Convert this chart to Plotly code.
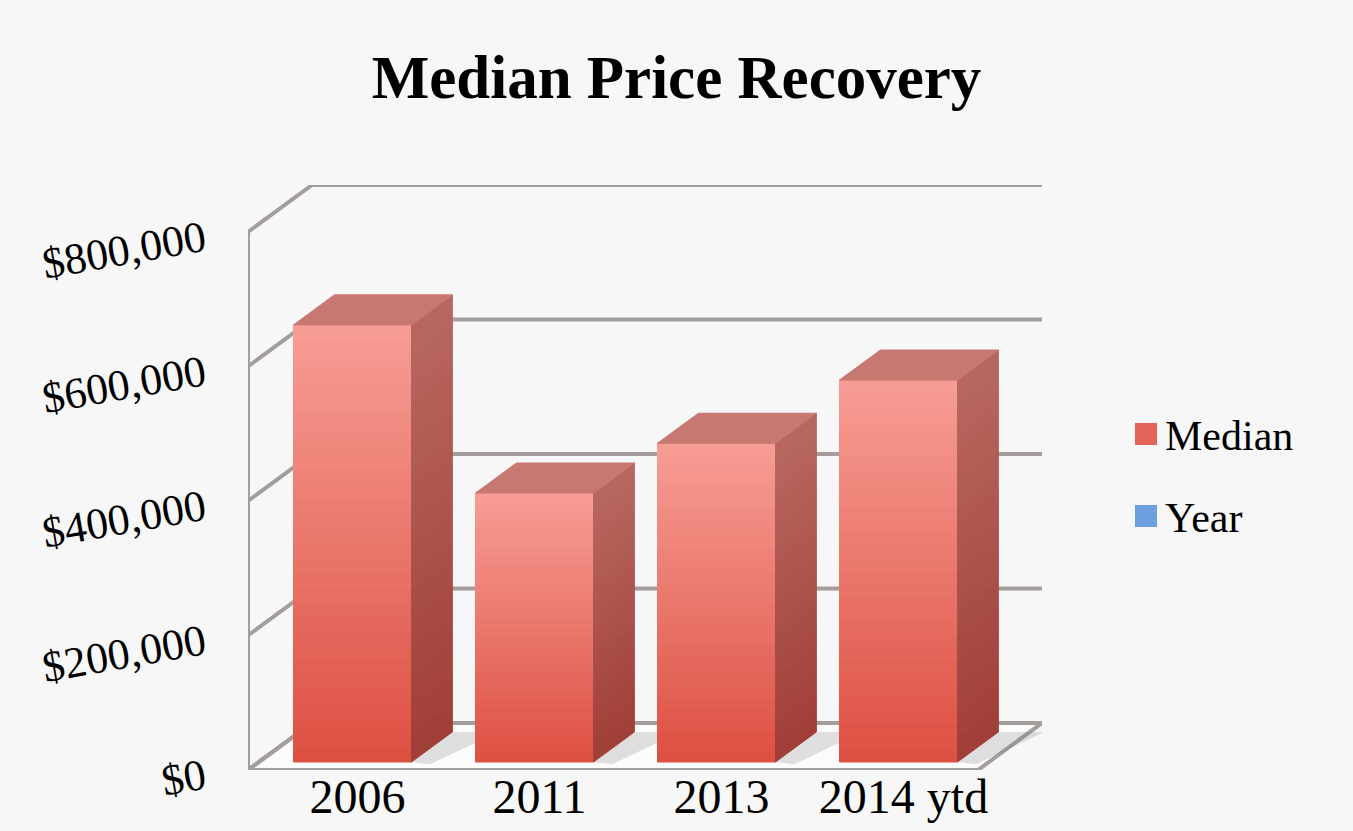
import plotly.graph_objects as go

# ---------------- data ----------------
categories = ["2006", "2011", "2013", "2014 ytd"]
median_values = [650000, 400000, 474000, 568000]
series_names = ["Median", "Year"]
y_tick_values = [0, 200000, 400000, 600000, 800000]
y_tick_labels = ["$0", "$200,000", "$400,000", "$600,000", "$800,000"]
title_text = "Median Price Recovery"

# ---------------- styling / geometry ----------------
W, H = 1353, 831
BG = "#f7f7f7"
GRID = "#a39e9c"
FONT = "Liberation Serif"
FRONT_TOP, FRONT_BOT = (247, 157, 149), (221, 80, 66)
SIDE_TOP, SIDE_BOT = (184, 104, 97), (160, 62, 55)
TOP_FACE = "#c77870"
LEGEND_COLORS = ["#e5645a", "#6b9fe0"]

L, R, T, B = 248, 1042, 185, 770      # plot box in pixels
CAT_PX = 182.0                          # pixels per category
X0_PX = 352.5                           # pixel centre of first bar front
PX_PER_VAL = 0.6725 / 1000.0            # pixels per dollar
Y0_PX = 762.0                           # pixel of bar-front baseline
DX_PX, DY_PX = 64.0, 47.0               # full wall depth in pixels
T0 = 8.0 / 47.0                         # depth of bar front
T1 = T0 + 30.0 / 47.0                   # depth of bar back
BAR_W = 118.0 / CAT_PX

x_range = [(L - X0_PX) / CAT_PX, (R - X0_PX) / CAT_PX]
y_range = [(Y0_PX - B) / PX_PER_VAL, (Y0_PX - T) / PX_PER_VAL]
DXU = DX_PX / CAT_PX
DYU = DY_PX / PX_PER_VAL


def P(xb, v, t):
    return xb + (t - T0) * DXU, v + (t - T0) * DYU


def path(pts):
    return "M " + " L ".join(f"{x},{y}" for x, y in pts) + " Z"


def openpath(pts):
    return "M " + " L ".join(f"{x},{y}" for x, y in pts)


def lerp(c0, c1, f):
    return "rgb(%d,%d,%d)" % tuple(round(a + (b - a) * f) for a, b in zip(c0, c1))


xL = x_range[0] + T0 * DXU
xR = x_range[1] - (1 - T0) * DXU

shapes = []
# floor
shapes.append(dict(type="path", xref="x", yref="y", layer="below",
                   path=path([P(xL, 0, 0), P(xR, 0, 0), P(xR, 0, 1), P(xL, 0, 1)]),
                   fillcolor="#fcfcfc", line=dict(color=GRID, width=4)))
# gridlines on left wall and back wall
for v in y_tick_values:
    shapes.append(dict(type="path", xref="x", yref="y", layer="below",
                       path=openpath([P(xL, v, 0), P(xL, v, 1), P(xR, v, 1)]),
                       line=dict(color=GRID, width=4)))
# left wall front edge
shapes.append(dict(type="path", xref="x", yref="y", layer="below",
                   path=openpath([P(xL, 0, 0), P(xL, y_tick_values[-1], 0)]),
                   line=dict(color=GRID, width=4)))

N = 30
for i, v in enumerate(median_values):
    xl, xr = i - BAR_W / 2, i + BAR_W / 2
    # shadow on the floor
    shapes.append(dict(type="path", xref="x", yref="y", layer="below",
                       path=path([P(xr, 0, T0), P(xr + 0.12, 0, T0 - 0.05), P(xr + 0.25, 0, T1),
                                  P(xr, 0, T1)]),
                       fillcolor="rgba(120,120,120,0.22)", line=dict(width=0)))
    for k in range(N):
        f = (k + 0.5) / N
        ya, yb = v * k / N, v * (k + 1) / N
        c = lerp(FRONT_BOT, FRONT_TOP, f)
        shapes.append(dict(type="rect", xref="x", yref="y", layer="above",
                           x0=xl, x1=xr, y0=ya, y1=yb, fillcolor=c,
                           line=dict(color=c, width=1)))
        cs = lerp(SIDE_BOT, SIDE_TOP, f)
        shapes.append(dict(type="path", xref="x", yref="y", layer="above",
                           path=path([P(xr, ya, T0), P(xr, ya, T1), P(xr, yb, T1), P(xr, yb, T0)]),
                           fillcolor=cs, line=dict(color=cs, width=1)))
    shapes.append(dict(type="path", xref="x", yref="y", layer="above",
                       path=path([P(xl, v, T0), P(xr, v, T0), P(xr, v, T1), P(xl, v, T1)]),
                       fillcolor=TOP_FACE, line=dict(color=TOP_FACE, width=1)))

fig = go.Figure()
fig.add_trace(go.Bar(x=list(range(len(categories))), y=median_values, width=BAR_W,
                     name=series_names[0], marker=dict(color="#ea7468", line=dict(width=0)),
                     customdata=categories,
                     hovertemplate="%{customdata}: $%{y:,.0f}<extra></extra>",
                     showlegend=False))

# manual legend (large swatches)
annotations = []
leg_x0, leg_y0, leg_gap, sw = 1135, 434, 82, 22
for j, name in enumerate(series_names):
    cy = leg_y0 + j * leg_gap
    shapes.append(dict(type="rect", xref="paper", yref="paper",
                       x0=(leg_x0 - L) / (R - L), x1=(leg_x0 + sw - L) / (R - L),
                       y0=(B - (cy + sw / 2)) / (B - T), y1=(B - (cy - sw / 2)) / (B - T),
                       fillcolor=LEGEND_COLORS[j], line=dict(width=0)))
    annotations.append(dict(xref="paper", yref="paper", x=(leg_x0 + sw + 6 - L) / (R - L),
                            y=(B - cy - 2) / (B - T), xanchor="left", yanchor="middle",
                            text=name, showarrow=False,
                            font=dict(family=FONT, size=42, color="#000000")))

fig.update_layout(
    width=W, height=H,
    paper_bgcolor=BG, plot_bgcolor=BG,
    margin=dict(l=L, r=W - R, t=T, b=H - B, pad=0, autoexpand=False),
    title=dict(text="<b>" + title_text + "</b>", x=0.5, xanchor="center",
               y=1 - 77 / H, yanchor="middle", yref="container",
               font=dict(family=FONT, size=61, color="#000000")),
    xaxis=dict(range=x_range, showgrid=False, zeroline=False, showline=False,
               automargin=False,
               tickmode="array", tickvals=list(range(len(categories))), ticktext=categories,
               ticks="", ticklabelstandoff=-6, ticklabelshift=5,
               tickfont=dict(family=FONT, size=48, color="#000000"), fixedrange=True),
    yaxis=dict(range=y_range, showgrid=False, zeroline=False, showline=False,
               automargin=False,
               tickmode="array", tickvals=y_tick_values, ticktext=y_tick_labels,
               ticks="", tickangle=-10, ticklabelstandoff=43, ticklabelshift=11,
               tickfont=dict(family=FONT, size=44, color="#000000"), fixedrange=True),
    shapes=shapes, annotations=annotations, showlegend=False, bargap=0.35,
)

fig.write_html("out.html", config={"displayModeBar": False},
               post_script="document.body.style.margin='0px';"
                           "document.body.style.background='#f7f7f7';"
                           "document.body.style.overflow='hidden';")
